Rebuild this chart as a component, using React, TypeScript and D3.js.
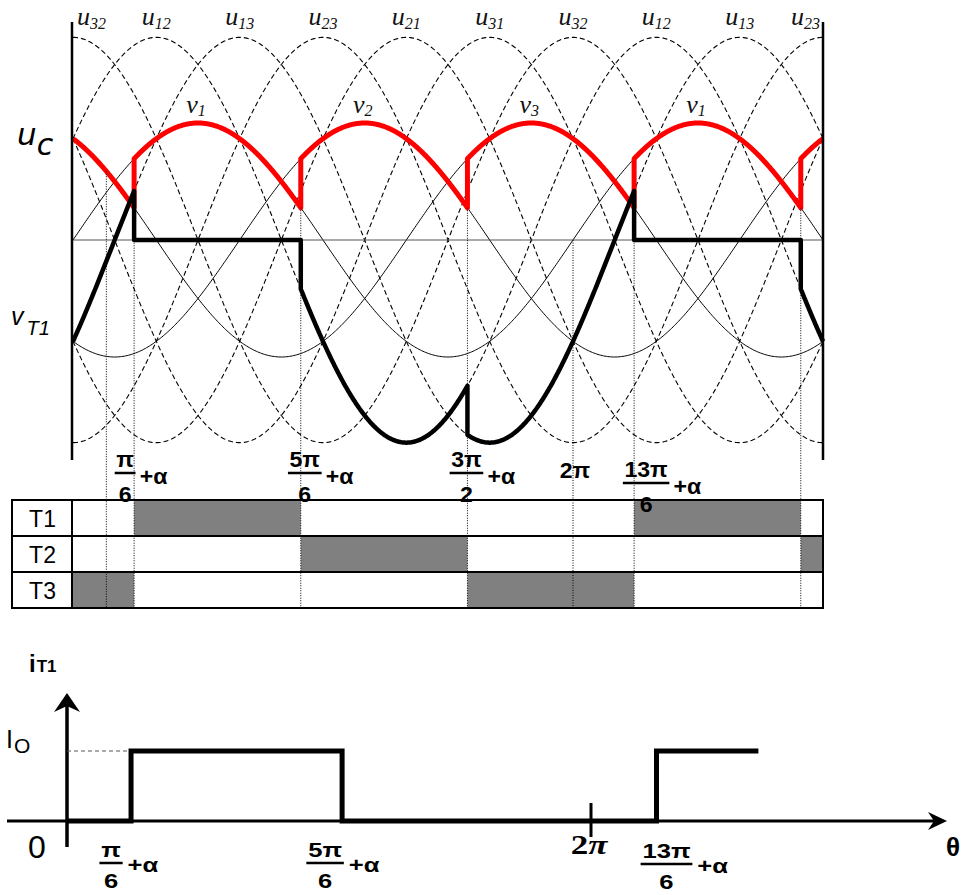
import React, { useEffect, useRef } from "react";
import * as d3 from "d3";

const width = 964;
const height = 895;

// phase voltages v1, v2, v3 (degrees of shift), plotted over 0..3π
const phaseShifts = [0, 120, 240];
const thetaMax = 540;

// dashed line-to-line voltages u_ab = v_a - v_b
const linePairs = [[1, 2], [1, 3], [2, 3], [2, 1], [3, 1], [3, 2]];
const lineLabelAngles = [0, 60, 120, 180, 240, 300, 360, 420, 480, 540];
const lineLabelSubs = ["32", "12", "13", "23", "21", "31", "32", "12", "13", "23"];

// v labels over the red u_c arcs
const phaseLabelAngles = [90, 210, 330, 450];
const phaseLabelSubs = ["1", "2", "3", "1"];

// commutation instants (α ≈ 14°) and thyristor conducting in each interval
const commutations = [0, 44, 164, 284, 404, 524, 540];
const conducting = [3, 1, 2, 3, 1, 2];
const thyristors = ["T1", "T2", "T3"];

// dotted guide lines
const markerAngles = [24, 44, 164, 284, 360, 404, 524];

const angleTicks = [
  { num: "π", den: "6", angle: 44 },
  { num: "5π", den: "6", angle: 164 },
  { num: "3π", den: "2", angle: 284 },
  { num: "2π", den: "", angle: 360 },
  { num: "13π", den: "6", angle: 404 },
];

// i_T1 as drawn: [angle, level] steps
const iT1Steps: [number, number][] = [[0, 0], [44, 1], [189, 0], [405, 1], [475, 1]];
const iTicks = [
  { num: "π", den: "6", angle: 44 },
  { num: "5π", den: "6", angle: 189 },
  { num: "2π", den: "", angle: 360 },
  { num: "13π", den: "6", angle: 405 },
];

const serif = "'Liberation Serif', 'Times New Roman', serif";
const sans = "'Liberation Sans', Arial, sans-serif";

const App = () => {
  const ref = useRef<SVGSVGElement>(null);

  useEffect(() => {
    document.body.style.margin = "0";
    const svg = d3.select(ref.current);
    svg.selectAll("*").remove();

    const x = d3.scaleLinear().domain([0, thetaMax]).range([73, 823]);
    const y = d3.scaleLinear().domain([-1, 1]).range([357, 123]);
    const rad = (d: number) => (d * Math.PI) / 180;
    const v = (k: number, t: number) => Math.sin(rad(t - phaseShifts[k - 1]));
    const samples = d3.range(0, thetaMax + 0.5, 1);
    const line = d3
      .line<[number, number]>()
      .x(d => x(d[0]))
      .y(d => y(d[1]));

    const top = svg.append("g");

    // line-to-line voltages
    top
      .selectAll("path.ll")
      .data(linePairs)
      .join("path")
      .attr("class", "ll")
      .attr("d", p => line(samples.map(t => [t, v(p[0], t) - v(p[1], t)])))
      .attr("fill", "none")
      .attr("stroke", "#000")
      .attr("stroke-width", 1.1)
      .attr("stroke-dasharray", "5,3");

    // phase voltages
    top
      .selectAll("path.ph")
      .data([1, 2, 3])
      .join("path")
      .attr("class", "ph")
      .attr("d", k => line(samples.map(t => [t, v(k, t)])))
      .attr("fill", "none")
      .attr("stroke", "#000")
      .attr("stroke-width", 1);

    top
      .append("line")
      .attr("x1", x(0))
      .attr("x2", x(thetaMax))
      .attr("y1", y(0))
      .attr("y2", y(0))
      .attr("stroke", "#555")
      .attr("stroke-width", 1);

    // u_c and v_T1 built interval by interval
    const ucPts: [number, number][] = [];
    const vtPts: [number, number][] = [];
    conducting.forEach((k, i) => {
      const a = commutations[i];
      const b = commutations[i + 1];
      d3.range(a, b + 0.001, 0.5).forEach(t => {
        const tt = Math.min(t, b);
        ucPts.push([tt, v(k, tt)]);
        vtPts.push([tt, v(1, tt) - v(k, tt)]);
      });
    });
    const ucAt = (t: number) => {
      const i = Math.max(0, commutations.findIndex(c => c >= t) - 1);
      return v(conducting[i], t);
    };

    // dotted guides
    const tableTop = 500;
    const tableBottom = 608;
    svg
      .append("g")
      .selectAll("line")
      .data(markerAngles)
      .join("line")
      .attr("x1", d => x(d))
      .attr("x2", d => x(d))
      .attr("y1", d => (d % 120 === 0 ? y(0) : y(ucAt(d - 0.01))))
      .attr("y2", tableBottom)
      .attr("stroke", "#000")
      .attr("stroke-width", 1)
      .attr("stroke-dasharray", "1,1.5");

    top
      .append("path")
      .attr("d", line(ucPts))
      .attr("fill", "none")
      .attr("stroke", "#ff0000")
      .attr("stroke-width", 5)
      .attr("stroke-linejoin", "round");

    top
      .append("path")
      .attr("d", line(vtPts))
      .attr("fill", "none")
      .attr("stroke", "#000")
      .attr("stroke-width", 4.5)
      .attr("stroke-linejoin", "round");

    // frame verticals
    [0, thetaMax].forEach(t => {
      top
        .append("line")
        .attr("x1", x(t) - (t === 0 ? 1 : 0))
        .attr("x2", x(t) - (t === 0 ? 1 : 0))
        .attr("y1", 22)
        .attr("y2", 460)
        .attr("stroke", "#000")
        .attr("stroke-width", 2.5);
    });

    // serif label: letter + subscript
    const serifLabel = (px: number, py: number, anchor: string, letter: string, sub: string, subDy: number) => {
      const t = top
        .append("text")
        .attr("x", px)
        .attr("y", py)
        .attr("text-anchor", anchor)
        .attr("font-family", serif)
        .attr("font-style", "italic")
        .attr("font-size", 26)
        .attr("fill", "#111");
      t.append("tspan").text(letter);
      t.append("tspan").attr("font-size", 16).attr("dy", subDy).text(sub);
    };

    lineLabelAngles.forEach((a, i) => {
      const anchor = i === 0 ? "start" : i === lineLabelAngles.length - 1 ? "end" : "middle";
      const dx = i === 0 ? 4 : i === lineLabelAngles.length - 1 ? -3 : 0;
      serifLabel(x(a) + dx, 25, anchor, "u", lineLabelSubs[i], 4);
    });

    phaseLabelAngles.forEach((a, i) => {
      serifLabel(x(a) - 2, 113, "middle", "v", phaseLabelSubs[i], 3);
    });

    const uc = top
      .append("text")
      .attr("x", 17)
      .attr("y", 145)
      .attr("font-family", "'DejaVu Sans', sans-serif")
      .attr("font-style", "italic")
      .attr("font-size", 31);
    uc.append("tspan").text("u");
    uc.append("tspan").attr("dy", 10).attr("font-size", 30).text("c");

    const vt = top
      .append("text")
      .attr("x", 11)
      .attr("y", 325)
      .attr("font-family", sans)
      .attr("font-style", "italic")
      .attr("font-size", 25);
    vt.append("tspan").text("v");
    vt.append("tspan").attr("dy", 10).attr("dx", 3).attr("font-size", 20).text("T1");

    // fraction label helper
    const drawFrac = (
      g: d3.Selection<SVGGElement, unknown, null, undefined>,
      cx: number,
      cy: number,
      tick: { num: string; den: string },
      fs: number,
      sx: number,
      barDy: number,
      denDy: number,
      plusDy: number
    ) => {
      const grp = g.append("g").attr("transform", `translate(${cx},${cy}) scale(${sx},1)`);
      const num = grp
        .append("text")
        .attr("text-anchor", "middle")
        .attr("font-family", sans)
        .attr("font-weight", "bold")
        .attr("font-size", fs)
        .text(tick.num);
      if (!tick.den) return;
      const w = (num.node() as SVGTextElement).getComputedTextLength() + 3;
      grp
        .append("line")
        .attr("x1", -w / 2)
        .attr("x2", w / 2)
        .attr("y1", barDy)
        .attr("y2", barDy)
        .attr("stroke", "#000")
        .attr("stroke-width", 2.5);
      grp
        .append("text")
        .attr("text-anchor", "middle")
        .attr("y", denDy)
        .attr("font-family", sans)
        .attr("font-weight", "bold")
        .attr("font-size", fs)
        .text(tick.den);
      grp
        .append("text")
        .attr("x", w / 2 + 4)
        .attr("y", plusDy)
        .attr("font-family", sans)
        .attr("font-weight", "bold")
        .attr("font-size", fs)
        .text("+α");
    };

    const midNudge = [[-9, 0], [4, 0], [-1, 0], [2, 11], [12, 10]];
    const ticksG = svg.append("g");
    angleTicks.forEach((tk, i) => {
      drawFrac(ticksG, x(tk.angle) + midNudge[i][0], 467 + midNudge[i][1], tk, 22, 1.05, 6, 35, 17);
    });

    // conduction table
    const rowY = d3.scaleBand<string>().domain(thyristors).range([tableTop, tableBottom]);
    const tableLeft = 12;
    const tbl = svg.insert("g", ":first-child");
    thyristors.forEach((name, r) => {
      conducting.forEach((k, i) => {
        if (k !== r + 1) return;
        tbl
          .append("rect")
          .attr("x", x(commutations[i]))
          .attr("width", x(commutations[i + 1]) - x(commutations[i]))
          .attr("y", rowY(name)!)
          .attr("height", rowY.bandwidth())
          .attr("fill", "#808080");
      });
    });
    const border = svg.append("g").attr("stroke", "#000").attr("stroke-width", 2).attr("fill", "none");
    border
      .append("rect")
      .attr("x", tableLeft)
      .attr("y", tableTop)
      .attr("width", x(thetaMax) - tableLeft)
      .attr("height", tableBottom - tableTop);
    border.append("line").attr("x1", x(0) - 1).attr("x2", x(0) - 1).attr("y1", tableTop).attr("y2", tableBottom);
    thyristors.slice(1).forEach(name => {
      border
        .append("line")
        .attr("x1", tableLeft)
        .attr("x2", x(thetaMax))
        .attr("y1", rowY(name)!)
        .attr("y2", rowY(name)!);
    });
    svg
      .append("g")
      .selectAll("text")
      .data(thyristors)
      .join("text")
      .attr("x", (tableLeft + x(0)) / 2)
      .attr("y", d => rowY(d)! + rowY.bandwidth() / 2 + 9)
      .attr("text-anchor", "middle")
      .attr("font-family", sans)
      .attr("font-size", 23)
      .text(d => d);

    // i_T1 chart
    const xb = d3.scaleLinear().domain([0, 360]).range([67, 591]);
    const yb = d3.scaleLinear().domain([0, 1]).range([821, 751]);
    const bot = svg.append("g");

    bot
      .append("line")
      .attr("x1", 7)
      .attr("x2", 935)
      .attr("y1", yb(0))
      .attr("y2", yb(0))
      .attr("stroke", "#000")
      .attr("stroke-width", 3);
    bot
      .append("polygon")
      .attr("points", `947,${yb(0)} 928,${yb(0) - 9} 934,${yb(0)} 928,${yb(0) + 9}`)
      .attr("fill", "#000");
    bot
      .append("line")
      .attr("x1", xb(0))
      .attr("x2", xb(0))
      .attr("y1", 847)
      .attr("y2", 705)
      .attr("stroke", "#000")
      .attr("stroke-width", 3.5);
    bot
      .append("polygon")
      .attr("points", `${xb(0)},693 ${xb(0) + 13},712 ${xb(0)},706 ${xb(0) - 13},712`)
      .attr("fill", "#000");

    bot
      .append("line")
      .attr("x1", xb(0))
      .attr("x2", xb(iT1Steps[1][0]))
      .attr("y1", yb(1))
      .attr("y2", yb(1))
      .attr("stroke", "#555")
      .attr("stroke-width", 1)
      .attr("stroke-dasharray", "4,3");

    bot
      .append("path")
      .attr(
        "d",
        d3
          .line<[number, number]>()
          .x(d => xb(d[0]))
          .y(d => yb(d[1]))
          .curve(d3.curveStepAfter)(iT1Steps)
      )
      .attr("fill", "none")
      .attr("stroke", "#000")
      .attr("stroke-width", 5);

    bot
      .append("line")
      .attr("x1", xb(360))
      .attr("x2", xb(360))
      .attr("y1", 803)
      .attr("y2", 837)
      .attr("stroke", "#000")
      .attr("stroke-width", 3);

    const botNudge = [[-20, 0], [-17, 0], [-2, -3], [10, 1]];
    iTicks.forEach((tk, i) => {
      if (!tk.den) {
        const t = bot
          .append("text")
          .attr("transform", `translate(${xb(tk.angle) + botNudge[i][0]},${857 + botNudge[i][1]}) scale(1.3,1)`)
          .attr("text-anchor", "middle")
          .attr("font-family", serif)
          .attr("font-weight", "bold")
          .attr("font-size", 27);
        t.append("tspan").text(tk.num.replace("π", ""));
        t.append("tspan").attr("font-style", "italic").text("π");
        return;
      }
      drawFrac(bot, xb(tk.angle) + botNudge[i][0], 857 + botNudge[i][1], tk, 21, 1.22, 6, 31, 15);
    });

    const it = bot
      .append("text")
      .attr("x", 29)
      .attr("y", 672)
      .attr("font-family", sans)
      .attr("font-weight", "bold")
      .attr("font-size", 24);
    it.append("tspan").text("i");
    it.append("tspan").attr("font-size", 17).attr("dx", 1).text("T1");

    const io = bot.append("text").attr("x", 6).attr("y", 748).attr("font-family", sans).attr("font-size", 25);
    io.append("tspan").text("I");
    io.append("tspan").attr("font-size", 21).attr("dy", 5).attr("dx", 1).text("O");

    bot
      .append("text")
      .attr("x", 37)
      .attr("y", 858)
      .attr("text-anchor", "middle")
      .attr("font-family", sans)
      .attr("font-size", 32)
      .text("0");

    bot
      .append("text")
      .attr("x", 953)
      .attr("y", 856)
      .attr("text-anchor", "middle")
      .attr("font-family", sans)
      .attr("font-weight", "bold")
      .attr("font-size", 26)
      .text("θ");
  }, []);

  return <svg ref={ref} width={width} height={height} viewBox={`0 0 ${width} ${height}`} style={{ display: "block" }} />;
};

export default App;
